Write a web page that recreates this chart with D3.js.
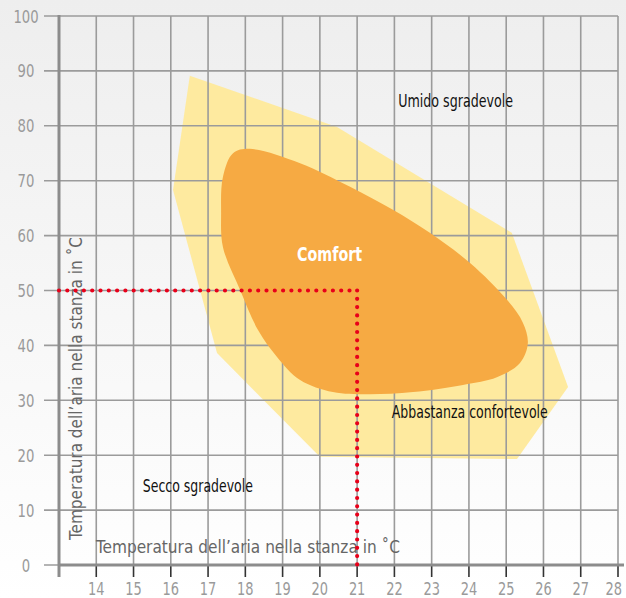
<!DOCTYPE html>
<html>
<head>
<meta charset="utf-8">
<script src="https://cdn.jsdelivr.net/npm/d3@7/dist/d3.min.js"></script>
<style>
  html, body { margin: 0; padding: 0; background: #fff; }
  svg { display: block; }
  text { font-family: "DejaVu Sans Condensed", "Liberation Sans Narrow", "Roboto", sans-serif; font-stretch: condensed; }
</style>
</head>
<body>
<svg id="chart" width="626" height="598"></svg>
<script>
// ---------- data ----------
const xTicks = [14, 15, 16, 17, 18, 19, 20, 21, 22, 23, 24, 25, 26, 27, 28];
const yTicks = [0, 10, 20, 30, 40, 50, 60, 70, 80, 90, 100];

// outer zone ("Abbastanza confortevole") – temperature / humidity vertices
const zoneTemp = [16.51, 20.46, 25.15, 26.66, 25.29, 20.0, 17.24, 16.06];
const zoneHum  = [89.1, 79.8, 60.5, 32.4, 19.3, 19.7, 38.6, 68.3];

// inner comfort zone contour
const comfortTemp = [18.12, 19.47, 20.81, 21.96, 22.95, 24.03, 25.02, 25.45, 25.58, 25.37, 24.75, 23.84, 22.50, 21.26, 20.35, 19.47, 18.85, 18.34, 17.86, 17.40, 17.35, 17.40, 17.67];
const comfortHum  = [75.8, 73.2, 68.9, 64.7, 60.5, 55.0, 48.3, 44.1, 40.4, 36.8, 34.2, 32.8, 31.5, 31.1, 31.5, 33.7, 37.9, 42.8, 50.1, 57.9, 64.1, 70.7, 75.0];

// reading example
const refTemp = 21;
const refHum = 50;

// region labels
const labelText = ["Umido sgradevole", "Comfort", "Abbastanza confortevole", "Secco sgradevole"];
const labelTemp = [22.1, 20.26, 21.93, 15.25];
const labelHum  = [83.4, 55.4, 26.8, 13.3];

const axisTitle = "Temperatura dell’aria nella stanza in ˚C";

// ---------- drawing ----------
const svg = d3.select("#chart");
const W = 626, H = 598;

const x = d3.scaleLinear().domain([13, 28]).range([59, 618]);
const y = d3.scaleLinear().domain([0, 100]).range([565, 16]);

// background gradient
const defs = svg.append("defs");
const grad = defs.append("linearGradient").attr("id", "bg").attr("x1", 0).attr("y1", 0).attr("x2", 0).attr("y2", 1);
grad.append("stop").attr("offset", "0%").attr("stop-color", "#eeeeee");
grad.append("stop").attr("offset", "100%").attr("stop-color", "#ffffff");
svg.append("rect").attr("width", W).attr("height", H).attr("fill", "url(#bg)");

// outer zone
const zonePts = zoneTemp.map((t, i) => [x(t), y(zoneHum[i])]);
svg.append("path")
  .attr("d", d3.line()(zonePts) + "Z")
  .attr("fill", "#feea9f");

// grid
const gridColor = "#9b9b9b";
svg.append("g").selectAll("line").data(xTicks).join("line")
  .attr("x1", d => x(d)).attr("x2", d => x(d))
  .attr("y1", y(100)).attr("y2", y(0))
  .attr("stroke", gridColor).attr("stroke-width", 1.6);
svg.append("g").selectAll("line").data(yTicks).join("line")
  .attr("x1", 44).attr("x2", x(28))
  .attr("y1", d => y(d)).attr("y2", d => y(d))
  .attr("stroke", gridColor).attr("stroke-width", 1.6);

// comfort blob
const comfortPts = comfortTemp.map((t, i) => [x(t), y(comfortHum[i])]);
svg.append("path")
  .attr("d", d3.line().curve(d3.curveCatmullRomClosed.alpha(0.5))(comfortPts))
  .attr("fill", "#f6aa43");

// x axis ticks (below)
svg.append("g").selectAll("line").data(xTicks).join("line")
  .attr("x1", d => x(d)).attr("x2", d => x(d))
  .attr("y1", y(0)).attr("y2", y(0) + 12)
  .attr("stroke", "#333").attr("stroke-width", 1.6);

// axis lines
svg.append("line").attr("x1", x(13)).attr("x2", x(13)).attr("y1", y(100) - 1).attr("y2", y(0) + 12)
  .attr("stroke", "#8c8c8c").attr("stroke-width", 3);
svg.append("line").attr("x1", x(13) - 1).attr("x2", 624).attr("y1", y(0)).attr("y2", y(0))
  .attr("stroke", "#8c8c8c").attr("stroke-width", 3);

// tick labels
svg.append("g").selectAll("text").data(yTicks).join("text")
  .attr("x", 26).attr("y", d => y(d) + 6.5)
  .attr("text-anchor", "middle")
  .attr("font-size", 18).attr("fill", "#9a9a9a")
  .attr("textLength", d => String(d).length * 8.4)
  .attr("lengthAdjust", "spacingAndGlyphs")
  .text(d => d);
svg.append("g").selectAll("text").data(xTicks).join("text")
  .attr("x", (d, i) => i === xTicks.length - 1 ? 622 : x(d))
  .attr("y", 595)
  .attr("text-anchor", (d, i) => i === xTicks.length - 1 ? "end" : "middle")
  .attr("font-size", 17).attr("fill", "#9a9a9a")
  .attr("textLength", 16.5)
  .attr("lengthAdjust", "spacingAndGlyphs")
  .text(d => d);

// axis titles
svg.append("text")
  .attr("x", 96).attr("y", 553)
  .attr("font-size", 18.5).attr("fill", "#666")
  .attr("textLength", 304).attr("lengthAdjust", "spacingAndGlyphs")
  .text(axisTitle);
svg.append("text")
  .attr("transform", "translate(82,540) rotate(-90)")
  .attr("font-size", 18.5).attr("fill", "#666")
  .attr("textLength", 303).attr("lengthAdjust", "spacingAndGlyphs")
  .text(axisTitle);

// region labels
const labelWidth = [115, 65, 156, 110];
svg.append("g").selectAll("text").data(labelText).join("text")
  .attr("x", (d, i) => x(labelTemp[i]))
  .attr("y", (d, i) => y(labelHum[i]))
  .attr("text-anchor", d => d === "Comfort" ? "middle" : "start")
  .attr("font-size", d => d === "Comfort" ? 19 : 17)
  .attr("font-weight", d => d === "Comfort" ? "bold" : "normal")
  .attr("fill", d => d === "Comfort" ? "#ffffff" : "#111")
  .attr("textLength", (d, i) => labelWidth[i])
  .attr("lengthAdjust", "spacingAndGlyphs")
  .text(d => d);

// reading lines (dotted red)
const dot = { stroke: "#e8001a", "stroke-width": 4.2, "stroke-linecap": "round", "stroke-dasharray": "0 8.3" };
function dotted(x1, y1, x2, y2) {
  const l = svg.append("line").attr("x1", x1).attr("y1", y1).attr("x2", x2).attr("y2", y2).attr("fill", "none");
  Object.entries(dot).forEach(([k, v]) => l.attr(k, v));
}
dotted(x(13), y(refHum), x(refTemp), y(refHum));
dotted(x(refTemp), y(refHum), x(refTemp), y(0));
</script>
</body>
</html>
